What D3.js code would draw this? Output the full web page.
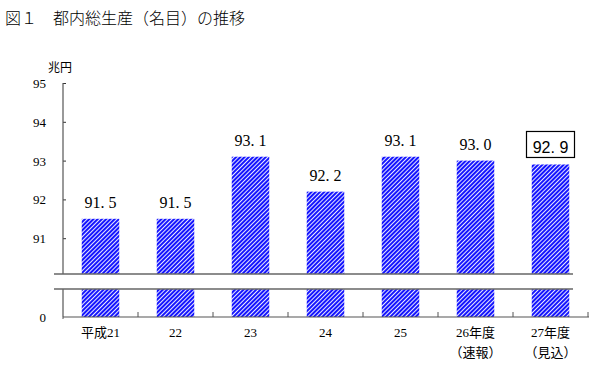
<!DOCTYPE html>
<html>
<head>
<meta charset="utf-8">
<script src="https://cdn.jsdelivr.net/npm/d3@7"></script>
<style>
body { margin: 0; background: #fff; }
svg { display: block; }
</style>
</head>
<body>
<svg width="600" height="370"></svg>
<script>
// data
const years = ['平成21', '22', '23', '24', '25', '26年度', '27年度'];
const subLabels = ['', '', '', '', '', '（速報）', '（見込）'];
const gdp = [91.5, 91.5, 93.1, 92.2, 93.1, 93.0, 92.9];
const yTicks = [91, 92, 93, 94, 95];

const svg = d3.select('svg');
const serif = '"Liberation Serif", "Noto Sans CJK JP", serif';
const gothic = '"Noto Sans CJK JP", sans-serif';

// hatch pattern: blue with thin white "/" lines
const pat = svg.append('defs').append('pattern')
  .attr('id', 'hatch')
  .attr('patternUnits', 'userSpaceOnUse')
  .attr('width', 3).attr('height', 3)
  .attr('patternTransform', 'rotate(45)');
pat.append('rect').attr('width', 3).attr('height', 3).attr('fill', '#1515ff');
pat.append('rect').attr('x', 0).attr('width', 0.9).attr('height', 3).attr('fill', '#fff');

svg.append('text')
  .attr('x', 5).attr('y', 24)
  .attr('font-family', gothic).attr('font-size', 16).attr('font-weight', 300)
  .text('図１　都内総生産（名目）の推移');

const xScale = d3.scaleBand()
  .domain(years)
  .range([63, 588])
  .paddingInner(0.5).paddingOuter(0.25);

const yScale = d3.scaleLinear().domain([90, 95]).range([277, 83]);
const upperBottom = 274, lowerTop = 289, zeroY = 317;

const g = svg.append('g');

// upper bar parts
g.selectAll('rect.upper')
  .data(gdp).enter().append('rect')
  .attr('class', 'upper')
  .attr('x', (d, i) => xScale(years[i]))
  .attr('y', d => yScale(d))
  .attr('width', xScale.bandwidth())
  .attr('height', d => upperBottom - yScale(d))
  .attr('fill', 'url(#hatch)');

// lower bar stubs
g.selectAll('rect.lower')
  .data(gdp).enter().append('rect')
  .attr('class', 'lower')
  .attr('x', (d, i) => xScale(years[i]))
  .attr('y', lowerTop)
  .attr('width', xScale.bandwidth())
  .attr('height', zeroY - lowerTop)
  .attr('fill', 'url(#hatch)');

// y axis upper
const yAxis = d3.axisRight(yScale).tickValues(yTicks).tickSize(3).tickFormat('');
const ya = svg.append('g').attr('transform', 'translate(63,0)').call(yAxis);
ya.select('.domain').remove();
ya.selectAll('line').attr('stroke', '#333');
svg.append('line').attr('x1', 63).attr('x2', 63).attr('y1', yScale(95)).attr('y2', upperBottom)
  .attr('stroke', '#555').attr('stroke-width', 1.2);
svg.append('line').attr('x1', 63).attr('x2', 63).attr('y1', lowerTop).attr('y2', zeroY)
  .attr('stroke', '#555').attr('stroke-width', 1.2);

svg.selectAll('text.ytick')
  .data(yTicks).enter().append('text')
  .attr('class', 'ytick')
  .attr('x', 46).attr('y', d => yScale(d) + 5)
  .attr('text-anchor', 'end')
  .attr('font-family', serif).attr('font-size', 13)
  .text(d => d);
svg.append('text').attr('x', 46).attr('y', zeroY + 5).attr('text-anchor', 'end')
  .attr('font-family', serif).attr('font-size', 13).text('0');
svg.append('text').attr('x', 48).attr('y', 72)
  .attr('font-family', gothic).attr('font-size', 12).text('兆円');

// break lines
svg.append('line').attr('x1', 54).attr('x2', 573).attr('y1', upperBottom).attr('y2', upperBottom)
  .attr('stroke', '#666').attr('stroke-width', 1.5);
svg.append('line').attr('x1', 54).attr('x2', 573).attr('y1', lowerTop).attr('y2', lowerTop)
  .attr('stroke', '#666').attr('stroke-width', 1.5);

// x axis
const bounds = d3.range(years.length + 1).map(i => 63 + i * xScale.step());
svg.append('line').attr('x1', 63).attr('x2', 589).attr('y1', zeroY).attr('y2', zeroY)
  .attr('stroke', '#555').attr('stroke-width', 1.2);
svg.selectAll('line.xtick')
  .data(bounds).enter().append('line')
  .attr('class', 'xtick')
  .attr('x1', d => d).attr('x2', d => d)
  .attr('y1', zeroY).attr('y2', d => d === 63 ? zeroY + 2 : zeroY - 5)
  .attr('stroke', '#555');

svg.selectAll('text.xl')
  .data(years).enter().append('text')
  .attr('class', 'xl')
  .attr('x', d => xScale(d) + xScale.bandwidth() / 2)
  .attr('y', 337)
  .attr('text-anchor', 'middle')
  .attr('font-family', serif).attr('font-size', 13)
  .text(d => d);
svg.selectAll('text.xs')
  .data(subLabels).enter().append('text')
  .attr('class', 'xs')
  .attr('x', (d, i) => xScale(years[i]) + xScale.bandwidth() / 2)
  .attr('y', 357)
  .attr('text-anchor', 'middle')
  .attr('font-family', serif).attr('font-size', 13)
  .text(d => d);

// value labels
const fmt = d => d.toFixed(1).replace('.', '. ');
const last = gdp.length - 1;
svg.selectAll('text.val')
  .data(gdp).enter().append('text')
  .attr('class', 'val')
  .attr('x', (d, i) => xScale(years[i]) + xScale.bandwidth() / 2)
  .attr('y', d => yScale(d) - 11)
  .attr('text-anchor', 'middle')
  .attr('font-family', (d, i) => i === last ? '"Liberation Sans", sans-serif' : serif)
  .attr('font-size', 16)
  .attr('xml:space', 'preserve')
  .style('white-space', 'pre')
  .text(fmt);

const lx = xScale(years[last]) + xScale.bandwidth() / 2;
svg.append('rect')
  .attr('x', lx - 24).attr('y', yScale(gdp[last]) - 33)
  .attr('width', 48).attr('height', 26)
  .attr('fill', 'none').attr('stroke', '#000').attr('stroke-width', 1.2);
</script>
</body>
</html>
